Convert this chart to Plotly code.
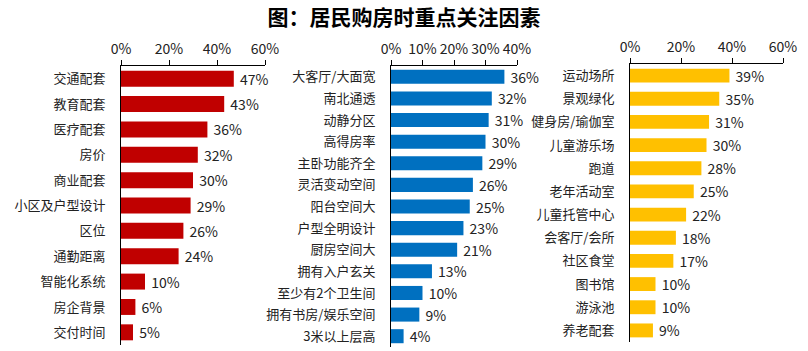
import plotly.graph_objects as go

title = "图：居民购房时重点关注因素"

cat1 = ["交通配套", "教育配套", "医疗配套", "房价", "商业配套", "小区及户型设计",
        "区位", "通勤距离", "智能化系统", "房企背景", "交付时间"]
val1 = [47, 43, 36, 32, 30, 29, 26, 24, 10, 6, 5]

cat2 = ["大客厅/大面宽", "南北通透", "动静分区", "高得房率", "主卧功能齐全", "灵活变动空间",
        "阳台空间大", "户型全明设计", "厨房空间大", "拥有入户玄关", "至少有2个卫生间",
        "拥有书房/娱乐空间", "3米以上层高"]
val2 = [36, 32, 31, 30, 29, 26, 25, 23, 21, 13, 10, 9, 4]

cat3 = ["运动场所", "景观绿化", "健身房/瑜伽室", "儿童游乐场", "跑道", "老年活动室",
        "儿童托管中心", "会客厅/会所", "社区食堂", "图书馆", "游泳池", "养老配套"]
val3 = [39, 35, 31, 30, 28, 25, 22, 18, 17, 10, 10, 9]

ranges = [[0, 60], [0, 40], [0, 60]]
dticks = [20, 10, 20]
colors = ["#C00000", "#0070C0", "#FFC000"]

FONT = "Noto Sans CJK SC, Microsoft YaHei, sans-serif"
W, H = 808, 351

def px_x(a, b):
    return [a / W, b / W]

def px_y(top, bottom):
    return [1 - bottom / H, 1 - top / H]

xdom = [px_x(121, 265), px_x(391, 517), px_x(630, 783)]
ydom = [px_y(66, 345), px_y(66, 347), px_y(64, 342)]
widths = [0.63, 0.65, 0.6]

fig = go.Figure()
for i, (cats, vals) in enumerate([(cat1, val1), (cat2, val2), (cat3, val3)]):
    sfx = "" if i == 0 else str(i + 1)
    fig.add_trace(go.Bar(
        y=cats, x=vals, orientation="h",
        marker=dict(color=colors[i], line=dict(width=0)),
        width=widths[i],
        text=[" %d%%" % v for v in vals], textposition="outside",
        textfont=dict(family=FONT, size=14, color="#222222"),
        constraintext="none", cliponaxis=False,
        xaxis="x" + sfx, yaxis="y" + sfx, showlegend=False,
        hoverinfo="skip",
    ))
    fig.update_layout(**{
        "xaxis" + sfx: dict(
            domain=xdom[i], range=ranges[i], dtick=dticks[i], tick0=0,
            side="top", anchor="y" + sfx, showgrid=False, zeroline=False,
            showline=True, linecolor="#000000", linewidth=1,
            ticks="outside", ticklen=5, tickcolor="#000000", tickwidth=1,
            ticksuffix="%", tickfont=dict(family=FONT, size=14, color="#222222"),
            fixedrange=True, automargin=False,
        ),
        "yaxis" + sfx: dict(
            domain=ydom[i], anchor="x" + sfx, type="category",
            categoryorder="array", categoryarray=cats, autorange="reversed",
            showgrid=False, zeroline=False, showline=True, linecolor="#000000",
            linewidth=1, ticks="", ticklabelstandoff=12,
            tickfont=dict(family=FONT, size=13, color="#222222"),
            fixedrange=True, automargin=False,
        ),
    })

fig.update_layout(
    width=W, height=H,
    margin=dict(l=0, r=0, t=0, b=0, autoexpand=False),
    paper_bgcolor="white", plot_bgcolor="white",
    title=dict(text="<b>" + title + "</b>", x=0.5, xanchor="center",
               y=1 - 18 / H, yanchor="middle",
               font=dict(family=FONT, size=21, color="#000000")),
)

fig.write_html("out.html")
